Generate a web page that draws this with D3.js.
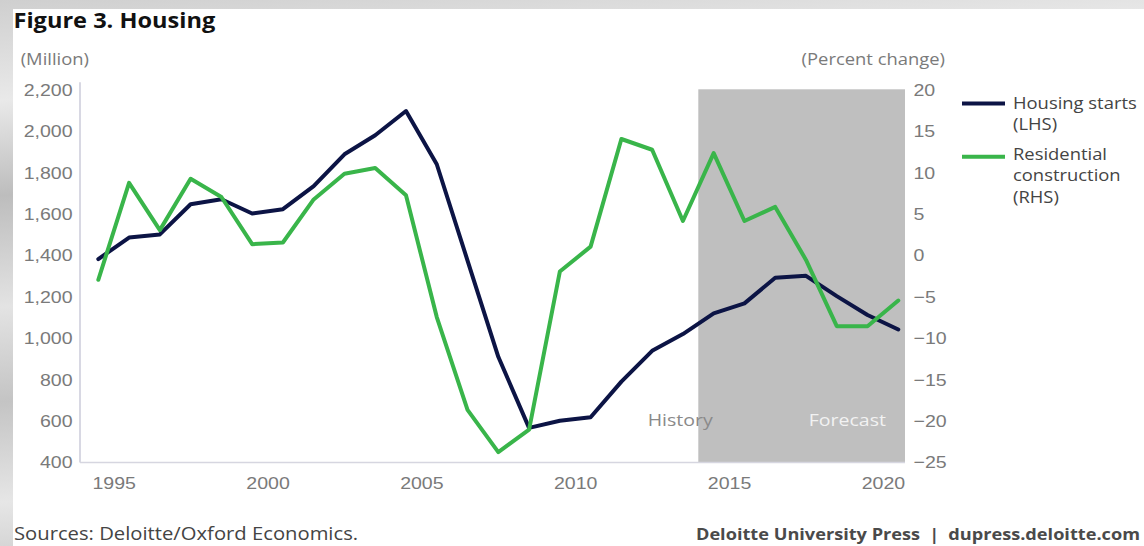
<!DOCTYPE html>
<html>
<head>
<meta charset="utf-8">
<script src="https://cdn.jsdelivr.net/npm/d3@7"></script>
<style>
  html, body { margin: 0; padding: 0; background: #fff; }
  svg { display: block; font-family: "Open Sans", "Noto Sans", sans-serif; }
</style>
</head>
<body>
<svg id="chart" width="1144" height="546"></svg>
<script>
// ---- data -------------------------------------------------------------
const years = [1995, 1996, 1997, 1998, 1999, 2000, 2001, 2002, 2003, 2004,
               2005, 2006, 2007, 2008, 2009, 2010, 2011, 2012, 2013, 2014,
               2015, 2016, 2017, 2018, 2019, 2020, 2021];

// Housing starts, thousands of units (left axis)
const housingStarts = [1380, 1484, 1499, 1645, 1669, 1600, 1621, 1732, 1886, 1978,
                       2095, 1838, 1373, 908, 565, 599, 616, 788, 937, 1018,
                       1118, 1166, 1290, 1299, 1201, 1110, 1040];

// Residential construction, percent change (right axis)
const residentialConstruction = [-3.0, 8.7, 3.0, 9.2, 7.0, 1.3, 1.5, 6.7, 9.8, 10.5,
                                 7.2, -7.5, -18.7, -23.8, -21.1, -2.0, 1.0, 14.0, 12.7, 4.1,
                                 12.3, 4.1, 5.8, -0.6, -8.6, -8.6, -5.5];

const yearTicks = [1995, 2000, 2005, 2010, 2015, 2020];
const leftTicks = [400, 600, 800, 1000, 1200, 1400, 1600, 1800, 2000, 2200];
const rightTicks = [-25, -20, -15, -10, -5, 0, 5, 10, 15, 20];
const firstForecastYear = 2015;

const seriesNames = ["Housing starts", "Residential construction"];

// ---- layout -------------------------------------------------------------
const NAVY = "#0c1445";
const GREEN = "#39b54a";
const TICK_GREY = "#7a7a7a";
const K = 1.15;               // horizontal stretch applied to all text

const svg = d3.select("#chart");
const W = 1144, H = 546;
const plot = { left: 80, right: 905, top: 89.3, bottom: 462 };

// textured grey paper behind the white card
const defs = svg.append("defs");
const paper = defs.append("linearGradient").attr("id", "paper")
  .attr("x1", 0).attr("y1", 0).attr("x2", 0.15).attr("y2", 1);
[["0", "#cfcfcf"], ["0.18", "#e9e9e9"], ["0.35", "#bdbdbd"], ["0.55", "#e3e3e3"],
 ["0.72", "#c4c4c4"], ["0.9", "#e6e6e6"], ["1", "#d2d2d2"]]
  .forEach(([o, c]) => paper.append("stop").attr("offset", o).attr("stop-color", c));
svg.append("rect").attr("width", W).attr("height", H).attr("fill", "url(#paper)");
svg.append("rect").attr("x", 13).attr("y", 9).attr("width", W - 13).attr("height", H - 9)
  .attr("fill", "#fff");

// widen glyphs horizontally while keeping the anchor point in place
function stretch(sel) {
  sel.each(function () {
    const t = d3.select(this);
    const x = +(t.attr("x") || 0);
    t.attr("x", x / K).attr("transform", `scale(${K},1)`);
  });
}

function label(x, y, text, opts = {}) {
  const t = svg.append("text")
    .attr("x", x).attr("y", y)
    .attr("font-size", opts.size || 16)
    .attr("font-weight", opts.weight || 400)
    .attr("fill", opts.fill || "#444")
    .attr("text-anchor", opts.anchor || "start")
    .attr("xml:space", "preserve")
    .text(text);
  stretch(t);
  return t;
}

// ---- scales -------------------------------------------------------------
const x = d3.scaleLinear()
  .domain([1994.405, 2021.218])
  .range([plot.left, plot.right]);
const yLeft = d3.scaleLinear().domain([400, 2200]).range([plot.bottom, plot.top]);
const yRight = d3.scaleLinear().domain([-25, 20]).range([plot.bottom, plot.top]);

// ---- forecast shading -----------------------------------------------------
svg.append("rect")
  .attr("x", x(firstForecastYear - 0.5))
  .attr("y", plot.top)
  .attr("width", plot.right - x(firstForecastYear - 0.5))
  .attr("height", plot.bottom - plot.top)
  .attr("fill", "#bfbfbf");

label(x(firstForecastYear - 0.5) - 18, 426.5, "History", { size: 17, fill: "#8a8a8a", anchor: "middle" });
label(x(firstForecastYear - 0.5) + 149, 426.5, "Forecast", { size: 17, fill: "#f2f2f2", anchor: "middle" });

// ---- axes -----------------------------------------------------------------
// year labels sit half a step to the right of their data point
const xAxis = d3.axisBottom(x)
  .tickValues(yearTicks.map(d => d + 0.5))
  .tickFormat(d => String(Math.floor(d)))
  .tickSize(0).tickPadding(0);
const gx = svg.append("g").attr("transform", `translate(0,${plot.bottom})`).call(xAxis);
gx.select(".domain").remove();
gx.selectAll("text")
  .attr("y", 27.3).attr("dy", null)
  .attr("font-size", 17).attr("font-family", null).attr("fill", TICK_GREY)
  .call(stretch);

const gl = svg.append("g").attr("transform", `translate(${plot.left},0)`)
  .call(d3.axisLeft(yLeft).tickValues(leftTicks).tickFormat(d3.format(",")).tickSize(0));
gl.select(".domain").remove();
gl.selectAll("text")
  .attr("x", -7.5).attr("dy", "0.35em")
  .attr("font-size", 17).attr("font-family", null).attr("fill", TICK_GREY)
  .call(stretch);

const gr = svg.append("g").attr("transform", `translate(${plot.right},0)`)
  .call(d3.axisRight(yRight).tickValues(rightTicks).tickFormat(d3.format("d")).tickSize(0));
gr.select(".domain").remove();
gr.selectAll("text")
  .attr("x", 8.5).attr("dy", "0.35em")
  .attr("font-size", 17).attr("font-family", null).attr("fill", TICK_GREY)
  .call(stretch);

// thin axis rules
svg.append("line")
  .attr("x1", plot.left).attr("x2", plot.left)
  .attr("y1", plot.top - 7).attr("y2", plot.bottom + 0.5)
  .attr("stroke", "#cfcfdc").attr("stroke-width", 1.6);
svg.append("line")
  .attr("x1", plot.left).attr("x2", plot.right)
  .attr("y1", plot.bottom + 0.5).attr("y2", plot.bottom + 0.5)
  .attr("stroke", "#d6d6e0").attr("stroke-width", 1.6);

// ---- lines ------------------------------------------------------------------
const lineLeft = d3.line().x((d, i) => x(years[i])).y(d => yLeft(d));
const lineRight = d3.line().x((d, i) => x(years[i])).y(d => yRight(d));

svg.append("path").datum(housingStarts)
  .attr("d", lineLeft)
  .attr("fill", "none").attr("stroke", NAVY).attr("stroke-width", 4)
  .attr("stroke-linejoin", "round").attr("stroke-linecap", "round");

svg.append("path").datum(residentialConstruction)
  .attr("d", lineRight)
  .attr("fill", "none").attr("stroke", GREEN).attr("stroke-width", 4)
  .attr("stroke-linejoin", "round").attr("stroke-linecap", "round");

// ---- titles & unit labels ---------------------------------------------------
label(13.5, 28.3, "Figure 3. Housing", { size: 20.5, weight: 700, fill: "#111" });
label(20.7, 65, "(Million)", { size: 16, fill: TICK_GREY });
label(945, 65, "(Percent change)", { size: 16, fill: TICK_GREY, anchor: "end" });

// ---- legend -------------------------------------------------------------------
const legend = [
  { color: NAVY, y: 103.5, lines: [seriesNames[0], "(LHS)"], base: 109 },
  { color: GREEN, y: 156.7, lines: ["Residential", "construction", "(RHS)"], base: 160 }
];
legend.forEach(item => {
  svg.append("line")
    .attr("x1", 962).attr("x2", 1005).attr("y1", item.y).attr("y2", item.y)
    .attr("stroke", item.color).attr("stroke-width", 4);
  item.lines.forEach((s, i) => label(1013, item.base + i * 21.5, s, { size: 16, fill: "#444" }));
});

// ---- footer -------------------------------------------------------------------
label(14, 540, "Sources: Deloitte/Oxford Economics.", { size: 17.6, fill: "#444" });
label(1140, 540, "Deloitte University Press\u2002|\u2002dupress.deloitte.com",
      { size: 15.8, weight: 700, fill: "#4a4a4a", anchor: "end" });
</script>
</body>
</html>
